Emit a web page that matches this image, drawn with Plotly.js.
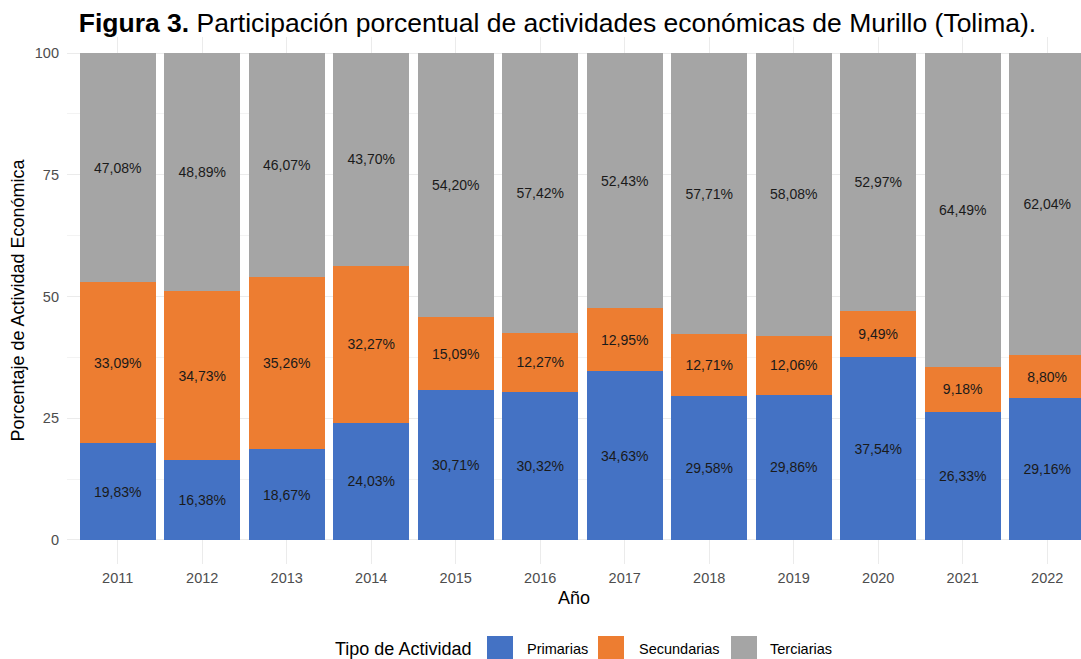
<!DOCTYPE html>
<html>
<head>
<meta charset="utf-8">
<script src="https://cdn.plot.ly/plotly-3.0.1.min.js"></script>
<style>html,body{margin:0;padding:0;background:#fff;}#chart{width:1081px;height:659px;}</style>
</head>
<body>
<div id="chart"></div>
<script>
const years = ['2011','2012','2013','2014','2015','2016','2017','2018','2019','2020','2021','2022'];
const primarias = [19.83, 16.38, 18.67, 24.03, 30.71, 30.32, 34.63, 29.58, 29.86, 37.54, 26.33, 29.16];
const secundarias = [33.09, 34.73, 35.26, 32.27, 15.09, 12.27, 12.95, 12.71, 12.06, 9.49, 9.18, 8.80];
const terciarias = [47.08, 48.89, 46.07, 43.70, 54.20, 57.42, 52.43, 57.71, 58.08, 52.97, 64.49, 62.04];
const seriesNames = ['Primarias', 'Secundarias', 'Terciarias'];
const seriesColors = ['#4472C4', '#ED7D31', '#A5A5A5'];
const yTicks = [0, 25, 50, 75, 100];

const fmt = v => v.toFixed(2).replace('.', ',') + '%';
const FONT = 'Arial, "Liberation Sans", sans-serif';

const W = 1081, H = 659;
const M = {l: 67, r: 0, t: 37, b: 95};
const PW = W - M.l - M.r, PH = H - M.t - M.b;
const px2x = px => (px - M.l) / PW;
const py2y = py => (H - M.b - py) / PH;

const traces = [primarias, secundarias, terciarias].map((vals, i) => ({
  type: 'bar',
  x: years,
  y: vals,
  name: seriesNames[i],
  marker: {color: seriesColors[i], line: {width: 0}},
  width: 0.9,
  text: vals.map(fmt),
  textposition: 'inside',
  insidetextanchor: 'middle',
  textangle: 0,
  constraintext: 'none',
  textfont: {family: FONT, size: 14, color: '#1a1a1a'},
  showlegend: false,
  hoverinfo: 'x+y+name'
}));

// custom legend (ggplot-style large key boxes)
const legendKeyX = [487, 598, 731];
const legendTextX = [525, 637, 768];
const legendY = 649;
const shapes = seriesNames.map((n, i) => ({
  type: 'rect', xref: 'paper', yref: 'paper',
  x0: px2x(legendKeyX[i]), x1: px2x(legendKeyX[i] + 26),
  y0: py2y(636), y1: py2y(662),
  fillcolor: seriesColors[i], line: {width: 0}, layer: 'above'
}));
const annotations = seriesNames.map((n, i) => ({
  text: n, xref: 'paper', yref: 'paper',
  x: px2x(legendTextX[i]), xanchor: 'left',
  y: py2y(legendY), yanchor: 'middle',
  showarrow: false, font: {family: FONT, size: 14.5, color: '#000'}
}));
annotations.push({
  text: 'Tipo de Actividad', xref: 'paper', yref: 'paper',
  x: px2x(333), xanchor: 'left',
  y: py2y(legendY), yanchor: 'middle',
  showarrow: false, font: {family: FONT, size: 18, color: '#000'}
});

const layout = {
  width: W,
  height: H,
  barmode: 'stack',
  bargap: 0.1,
  paper_bgcolor: '#ffffff',
  plot_bgcolor: '#ffffff',
  font: {family: FONT, color: '#000'},
  margin: {l: M.l, r: M.r, t: M.t, b: M.b, pad: 0, autoexpand: false},
  title: {
    text: '<b>Figura 3.</b> Participación porcentual de actividades económicas de Murillo (Tolima).',
    font: {family: FONT, size: 26.5, color: '#000'},
    x: 0.5157, xanchor: 'center', y: 0.966, yanchor: 'middle'
  },
  xaxis: {
    type: 'category',
    range: [-0.6, 11.4],
    showgrid: true,
    gridcolor: '#EBEBEB',
    gridwidth: 1,
    zeroline: false,
    showline: false,
    ticks: '',
    ticklabelstandoff: 3,
    tickfont: {family: FONT, size: 14.5, color: '#4D4D4D'},
    title: {text: 'Año', font: {family: FONT, size: 18, color: '#000'}, standoff: 6}
  },
  yaxis: {
    range: [-4.93, 103.3],
    tickvals: yTicks,
    ticktext: yTicks.map(String),
    showgrid: true,
    gridcolor: '#EBEBEB',
    gridwidth: 1,
    minor: {tickvals: [12.5, 37.5, 62.5, 87.5], showgrid: true, gridcolor: '#F3F3F3', gridwidth: 1, ticks: ''},
    zeroline: false,
    showline: false,
    ticks: '',
    ticklabelstandoff: 7,
    tickfont: {family: FONT, size: 14.5, color: '#4D4D4D'},
    title: {text: 'Porcentaje de Actividad Económica', font: {family: FONT, size: 18, color: '#000'}, standoff: 5}
  },
  shapes: shapes,
  annotations: annotations,
  showlegend: false
};

Plotly.newPlot('chart', traces, layout, {displayModeBar: false, staticPlot: true});
</script>
</body>
</html>
